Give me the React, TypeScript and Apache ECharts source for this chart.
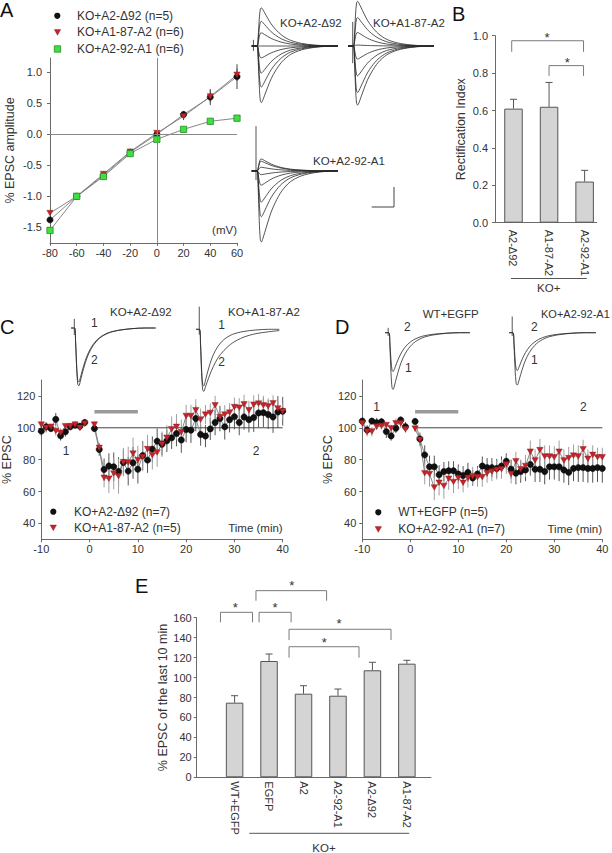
import React, { useEffect, useRef } from 'react';
import * as echarts from 'echarts';

// ---------------- Panel A: I-V relation ----------------
const IV_MV = [-80, -60, -40, -20, 0, 20, 40, 60];
const IV_D92 = [-1.38, -1.0, -0.66, -0.29, 0.0, 0.32, 0.6, 0.93];
const IV_D92_ERR = [0.03, 0.02, 0.04, 0.04, 0.04, 0.05, 0.13, 0.2];
const IV_A187 = [-1.27, -1.0, -0.64, -0.28, 0.02, 0.29, 0.61, 0.96];
const IV_A187_ERR = [0.03, 0.02, 0.03, 0.04, 0.03, 0.06, 0.1, 0.1];
const IV_A292 = [-1.55, -1.0, -0.68, -0.31, -0.08, 0.08, 0.21, 0.26];
const IV_A292_ERR = [0.03, 0.02, 0.05, 0.06, 0.03, 0.02, 0.04, 0.05];
const IV_NAMES = ['KO+A2-Δ92 (n=5)', 'KO+A1-87-A2 (n=6)', 'KO+A2-92-A1 (n=6)'];
const IV_TICKS = [-1.5, -1.0, -0.5, 0.0, 0.5, 1.0];

// ---------------- EPSC trace templates (normalised) ----------------
const TRACE_T = [0, 2.5, 3.0, 3.5, 4.0, 4.5, 5.2, 6.0, 7.5, 9, 11, 14, 18, 23, 29, 35, 40];
const TRACE_IV = [0, 0, 0.25, 0.7, 0.97, 1.0, 0.95, 0.87, 0.72, 0.58, 0.44, 0.28, 0.15, 0.07, 0.025, 0.005, 0];
const TRACE_FAST = [0, 0, 0.25, 0.7, 0.97, 1.0, 0.92, 0.8, 0.6, 0.45, 0.31, 0.18, 0.09, 0.04, 0.012, 0, 0];
const TRACE_SLOW = [0, 0, 0.25, 0.7, 0.97, 1.0, 0.94, 0.86, 0.72, 0.6, 0.47, 0.34, 0.22, 0.13, 0.07, 0.04, 0.02];
const C1_AMPS = [-1.0, -1.07];
const C2_AMPS = [-1.05, -1.15];
const D1_AMPS = [-1.05, -0.72];
const D2_AMPS = [-0.97, -0.7];
// stimulus artifacts: [t, low, high]
const ART_A = [[0.8, -0.12, 0.15], [2.2, -0.37, 0.52], [2.0, -0.2, 0.98]];
const ART_C = [[2.4, -0.13, 0.17], [2.4, -0.1, 0.42]];
const ART_D = [[2.2, -0.06, 0.09], [2.2, -0.06, 0.3]];

// ---------------- Panel B: rectification index ----------------
const RI_CATS = ['A2-Δ92', 'A1-87-A2', 'A2-92-A1'];
const RI_VALS = [0.61, 0.62, 0.22];
const RI_ERR = [0.05, 0.13, 0.06];
const RI_BRACKETS = [[-0.05, 1.97, 0.973, 0.914], [1.0, 1.97, 0.84, 0.785]];
const RI_STARS = [[0.94, 1.004], [1.51, 0.875]];
const RI_TICKS = [0, 0.2, 0.4, 0.6, 0.8, 1.0];

// ---------------- Panels C & D: time course ----------------
const T_PRE = [-10, -9, -8, -7, -6, -5, -4, -3, -2, -1];
const T_POST = [1, 2, 3, 4, 5, 6, 7, 8, 9, 10, 11, 12, 13, 14, 15, 16, 17, 18, 19, 20, 21, 22, 23, 24, 25, 26, 27, 28, 29, 30, 31, 32, 33, 34, 35, 36, 37, 38, 39, 40];

const C_BLACK_PRE = [97.9, 100.6, 99.5, 105.3, 95, 97.5, 100.6, 101.6, 101, 103.3];
const C_BLACK_POST = [99.5, 86.4, 73.8, 76, 75.5, 72.6, 78.2, 72.8, 78, 74, 82.6, 79.7, 86.6, 91.6, 89.7, 91.8, 93.7, 96.4, 92.3, 98.9, 98.5, 105.8, 95.8, 94.8, 99.3, 103.3, 105.8, 100.6, 105.1, 107, 103.3, 106.8, 105.1, 106.4, 109.3, 109.5, 108.3, 106.8, 109.9, 110.4];
const C_BLACK_PRE_ERR = [3, 3, 2, 4, 3, 3, 2, 2, 2, 2];
const C_BLACK_POST_ERR = [2, 4, 7, 8, 9, 9, 8, 9, 10, 9, 9, 8, 8, 8, 7, 7, 7, 8, 8, 8, 8, 8, 7, 7, 7, 8, 8, 8, 8, 8, 8, 8, 8, 9, 9, 9, 9, 10, 10, 9];
const C_RED_PRE = [102, 100, 100.6, 98, 96.8, 101, 101, 102, 100, 102.7];
const C_RED_POST = [102, 87.4, 68.6, 68, 71.3, 69.6, 78.4, 78.2, 83.8, 79.7, 81.7, 86.6, 82.8, 84.5, 89.7, 93.7, 99.1, 100.6, 97.2, 107.4, 107.4, 111, 105.1, 108.3, 109.3, 114.1, 106.8, 108.3, 109.5, 113, 112.6, 114.7, 111, 114.5, 115.2, 114.1, 113.5, 115.4, 112.1, 110.4];
const C_RED_PRE_ERR = [3, 3, 2, 3, 3, 2, 2, 2, 2, 2];
const C_RED_POST_ERR = [2, 3, 6, 9, 10, 11, 9, 10, 10, 9, 9, 9, 9, 9, 8, 8, 8, 8, 8, 7, 7, 7, 7, 6, 6, 6, 6, 6, 6, 6, 6, 6, 6, 6, 6, 6, 5, 5, 5, 5];
const C_NAMES = ['KO+A2-Δ92 (n=7)', 'KO+A1-87-A2 (n=5)'];

const D_BLACK_PRE = [104.2, 98.6, 104.2, 103.2, 103.8, 97.6, 94.9, 99.7, 104.9, 100.7];
const D_BLACK_POST = [104, 93, 83, 75.5, 75.5, 70.5, 72.5, 73, 73, 71, 70, 72, 68.5, 71, 76, 75, 75, 74.5, 76, 79, 74, 71.5, 72.5, 73.5, 77, 74, 74, 72.5, 75.5, 75.5, 75.5, 73.5, 72, 74.5, 75, 75, 74.5, 74.5, 75, 74.5];
const D_BLACK_PRE_ERR = [2, 3, 2, 3, 2, 4, 3, 3, 2, 3];
const D_BLACK_POST_ERR = [2, 4, 6, 7, 7, 6, 6, 6, 6, 6, 6, 6, 5, 5, 6, 6, 6, 6, 6, 5, 6, 7, 7, 7, 7, 8, 8, 8, 8, 8, 9, 8, 8, 8, 9, 9, 9, 9, 9, 9];
const D_RED_PRE = [102.8, 97.6, 97.6, 100.7, 101.1, 101.7, 99.7, 102.8, 102.8, 99];
const D_RED_POST = [99.5, 92.5, 71.5, 71, 62.5, 65.5, 63.5, 68, 66, 68.5, 65.5, 68.5, 69.5, 69, 69, 71.5, 72.5, 73.5, 74, 77, 71, 79, 74, 76, 85, 79.5, 86, 82, 82, 81.5, 85, 79.5, 81, 82.5, 82, 86.5, 80.5, 83, 81.5, 81.5];
const D_RED_PRE_ERR = [2, 3, 3, 2, 2, 2, 2, 3, 3, 2];
const D_RED_POST_ERR = [2, 4, 7, 8, 8, 8, 8, 7, 7, 7, 6, 6, 6, 6, 6, 6, 6, 6, 6, 6, 6, 6, 6, 7, 7, 7, 7, 7, 7, 7, 7, 7, 7, 7, 7, 6, 6, 6, 6, 6];
const D_NAMES = ['WT+EGFP (n=5)', 'KO+A2-92-A1 (n=7)'];

const TC_TICKS = [40, 60, 80, 100, 120];
const BASELINE = [[0.5, 100], [40, 100]];
const BASELINE_D = [[1, 100], [40, 100]];
const DRUG_BAR = [[1, 110], [10, 110]];

// ---------------- Panel E ----------------
const E_CATS = ['WT+EGFP', 'EGFP', 'A2', 'A2-92-A1', 'A2-Δ92', 'A1-87-A2'];
const E_VALS = [74.8, 116.6, 83.8, 81.8, 107.3, 113.9];
const E_ERR = [7, 7, 8, 6.7, 8, 3.4];
const E_BRACKETS = [
  [-0.41, 0.52, 165.4, 155.4],
  [0.71, 1.64, 165.4, 155.4],
  [0.62, 2.67, 187.1, 177.0],
  [1.58, 4.54, 148.4, 137.6],
  [1.58, 3.61, 130.9, 119.9],
];
const E_STARS = [[0.02, 173.4], [1.17, 173.4], [1.66, 195.1], [3.03, 156.7], [2.6, 138.3]];

// ---------------- styles ----------------
const FONT = '"Liberation Sans", Arial, Helvetica, sans-serif';
const AX = '#6a6a6a';
const TXT = '#333';
const RED = '#c4232b';
const GREEN = '#3fe03f';
const TRI = 'path://M0,0L10,0L5,9Z';

function valueAxis(gridIndex: number, o: any) {
  return {
    type: 'value',
    gridIndex,
    min: o.min,
    max: o.max,
    interval: o.interval,
    splitLine: { show: false },
    axisLine: { show: true, onZero: false, lineStyle: { color: AX, width: 1 } },
    axisTick: { show: o.tick !== false, length: 3, lineStyle: { color: AX }, customValues: o.customValues },
    axisLabel: {
      fontSize: 11,
      color: TXT,
      fontFamily: FONT,
      margin: o.margin ?? 5,
      formatter: o.formatter,
      customValues: o.customValues,
      rotate: o.rotate ?? 0,
    },
    name: o.name,
    nameLocation: 'middle',
    nameGap: o.nameGap,
    nameRotate: o.name ? 90 : undefined,
    nameTextStyle: { fontSize: o.nameSize ?? 12.5, color: TXT, fontFamily: FONT },
  };
}
function hiddenAxis(gridIndex: number, min: number, max: number) {
  return { type: 'value', gridIndex, min, max, show: false };
}

function errSeries(gi: number, data: number[][], color: string, cap: number) {
  return {
    type: 'custom',
    xAxisIndex: gi,
    yAxisIndex: gi,
    data,
    silent: true,
    z: 1,
    renderItem: (_p: any, api: any) => {
      const x = api.value(0);
      const a = api.coord([x, api.value(1)]);
      const b = api.coord([x, api.value(2)]);
      const ch: any[] = [
        { type: 'line', shape: { x1: a[0], y1: a[1], x2: b[0], y2: b[1] }, style: { stroke: color, lineWidth: 1 } },
      ];
      if (cap > 0) {
        ch.push({ type: 'line', shape: { x1: b[0] - cap, y1: b[1], x2: b[0] + cap, y2: b[1] }, style: { stroke: color, lineWidth: 1 } });
      }
      return { type: 'group', children: ch };
    },
  };
}
function bracketSeries(gi: number, data: number[][]) {
  return {
    type: 'custom',
    xAxisIndex: gi,
    yAxisIndex: gi,
    data,
    silent: true,
    renderItem: (_p: any, api: any) => {
      const x1 = api.value(0), x2 = api.value(1), top = api.value(2), drop = api.value(3);
      return {
        type: 'polyline',
        shape: { points: [api.coord([x1, drop]), api.coord([x1, top]), api.coord([x2, top]), api.coord([x2, drop])] },
        style: { stroke: '#7a7a7a', lineWidth: 1, fill: 'none' },
      };
    },
  };
}
function starSeries(gi: number, data: number[][]) {
  return {
    type: 'custom',
    xAxisIndex: gi,
    yAxisIndex: gi,
    data,
    silent: true,
    renderItem: (_p: any, api: any) => {
      const c = api.coord([api.value(0), api.value(1)]);
      return {
        type: 'text',
        x: c[0],
        y: c[1] + 3,
        style: { text: '*', font: `13px ${FONT}`, fill: TXT, align: 'center', verticalAlign: 'middle' },
      };
    },
  };
}
function traceLine(gi: number, amp: number, shape: number[]) {
  return {
    type: 'line',
    xAxisIndex: gi,
    yAxisIndex: gi,
    data: TRACE_T.map((t, i) => [t, amp * shape[i]]),
    showSymbol: false,
    silent: true,
    smooth: 0.3,
    lineStyle: { color: '#2a2a2a', width: 0.8 },
  };
}
function artifactLine(gi: number, a: number[]) {
  return {
    type: 'line',
    xAxisIndex: gi,
    yAxisIndex: gi,
    data: [[a[0], a[1]], [a[0], a[2]]],
    showSymbol: false,
    silent: true,
    lineStyle: { color: '#2a2a2a', width: 0.8 },
  };
}
function plainLine(gi: number, data: number[][], color: string, width: number) {
  return { type: 'line', xAxisIndex: gi, yAxisIndex: gi, data, showSymbol: false, silent: true, lineStyle: { color, width } };
}
function pointLine(gi: number, name: string, t: number[], v: number[], kind: string) {
  const sym = kind === 'black'
    ? { symbol: 'circle', symbolSize: 6.3, itemStyle: { color: '#111', borderColor: '#000', borderWidth: 0.5 } }
    : kind === 'red'
      ? { symbol: TRI, symbolSize: [6.4, 5.6], itemStyle: { color: RED, borderColor: '#8a1a1a', borderWidth: 0.4 } }
      : { symbol: 'rect', symbolSize: 6.3, itemStyle: { color: GREEN, borderColor: '#2a8a2a', borderWidth: 0.8 } };
  return {
    type: 'line',
    name,
    xAxisIndex: gi,
    yAxisIndex: gi,
    data: t.map((x, i) => [x, v[i]]),
    showSymbol: true,
    silent: true,
    lineStyle: { color: '#7a7a7a', width: 0.9 },
    ...sym,
  };
}
const errData = (t: number[], v: number[], e: number[]) => t.map((x, i) => [x, v[i] - e[i], v[i] + e[i]]);
const errUp = (v: number[], e: number[]) => v.map((y, i) => [i, y, y + e[i]]);

function txt(x: number, y: number, text: string, size = 11.5, align = 'left', fill = TXT) {
  return { type: 'text', x, y, silent: true, style: { text, font: `${size}px ${FONT}`, fill, align, verticalAlign: 'middle' } };
}
function legCircle(cx: number, cy: number) {
  return { type: 'circle', shape: { cx, cy, r: 3.1 }, style: { fill: '#111' }, silent: true };
}
function legTri(cx: number, cy: number) {
  return { type: 'polygon', shape: { points: [[cx - 3.2, cy - 2.7], [cx + 3.2, cy - 2.7], [cx, cy + 3]] }, style: { fill: RED, stroke: '#8a1a1a', lineWidth: 0.4 }, silent: true };
}
function legSquare(cx: number, cy: number) {
  return { type: 'rect', shape: { x: cx - 3.2, y: cy - 3.2, width: 6.4, height: 6.4 }, style: { fill: GREEN, stroke: '#2a8a2a', lineWidth: 0.8 }, silent: true };
}
function gline(x1: number, y1: number, x2: number, y2: number, color = '#555') {
  return { type: 'line', shape: { x1, y1, x2, y2 }, style: { stroke: color, lineWidth: 1 }, silent: true };
}

function buildOption() {
  const grids = [
    { left: 50, top: 58.04, width: 187, height: 184.8 }, // 0 A I-V
    { left: 251.7, top: 2.95, width: 86.3, height: 102.5 }, // 1 A trace 1
    { left: 348, top: 0, width: 86, height: 111.1 }, // 2 A trace 2
    { left: 251.7, top: 116, width: 86.3, height: 130.5 }, // 3 A trace 3
    { left: 495, top: 35.7, width: 101.7, height: 187 }, // 4 B
    { left: 71.7, top: 311.8, width: 84, height: 81 }, // 5 C trace 1
    { left: 196.7, top: 305, width: 82.6, height: 94.5 }, // 6 C trace 2
    { left: 41.3, top: 380, width: 241.4, height: 159.3 }, // 7 C
    { left: 386, top: 321.9, width: 84, height: 75.6 }, // 8 D trace 1
    { left: 510, top: 313.8, width: 86, height: 78.3 }, // 9 D trace 2
    { left: 362.3, top: 380, width: 240, height: 159.3 }, // 10 D
    { left: 196.7, top: 617.7, width: 234.3, height: 159.6 }, // 11 E
  ].map((g) => ({ ...g, outerBoundsMode: 'none', containLabel: false }));

  const xAxis = [
    valueAxis(0, { min: -80, max: 60, interval: 20, margin: 5 }),
    hiddenAxis(1, 0, 40),
    hiddenAxis(2, 0, 40),
    hiddenAxis(3, 0, 40),
    valueAxis(4, { min: -0.52, max: 2.34, customValues: [0, 1, 2], tick: false, rotate: -90, margin: 7, formatter: (v: number) => RI_CATS[Math.round(v)] ?? '' }),
    hiddenAxis(5, 1.2, 40),
    hiddenAxis(6, 1.2, 40),
    valueAxis(7, { min: -10, max: 40, interval: 10, margin: 4 }),
    hiddenAxis(8, 1.2, 40),
    hiddenAxis(9, 1.2, 40),
    valueAxis(10, { min: -10, max: 40, interval: 10, margin: 4 }),
    valueAxis(11, { min: -1.1, max: 5.7, customValues: [0, 1, 2, 3, 4, 5], tick: false, rotate: -90, margin: 4, formatter: (v: number) => E_CATS[Math.round(v)] ?? '' }),
  ];
  const yAxis = [
    valueAxis(0, { min: -1.75, max: 1.23, customValues: IV_TICKS, margin: 8, formatter: (v: number) => v.toFixed(1), name: '% EPSC amplitude', nameGap: 34, nameSize: 12.5 }),
    hiddenAxis(1, -1.45, 1.05),
    hiddenAxis(2, -1.4, 0.99),
    hiddenAxis(3, -1.65, 1.2),
    valueAxis(4, { min: 0, max: 1, customValues: RI_TICKS, margin: 7, formatter: (v: number) => v.toFixed(1), name: 'Rectification Index', nameGap: 28 }),
    hiddenAxis(5, -1.2, 0.3),
    hiddenAxis(6, -1.3, 0.45),
    valueAxis(7, { min: 30, max: 130, customValues: TC_TICKS, margin: 6, name: '% EPSC', nameGap: 26 }),
    hiddenAxis(8, -1.2, 0.2),
    hiddenAxis(9, -1.1, 0.35),
    valueAxis(10, { min: 30, max: 130, customValues: TC_TICKS, margin: 6, name: '% EPSC', nameGap: 25 }),
    valueAxis(11, { min: 0, max: 160, interval: 20, margin: 5, name: '% EPSC of the last 10 min', nameGap: 27 }),
  ];

  const series: any[] = [];

  // ---- A: I-V ----
  series.push(errSeries(0, errData(IV_MV, IV_D92, IV_D92_ERR), '#444', 0));
  series.push(errSeries(0, errData(IV_MV, IV_A187, IV_A187_ERR), '#555', 0));
  series.push(errSeries(0, errData(IV_MV, IV_A292, IV_A292_ERR), '#555', 0));
  const ivBlack: any = pointLine(0, IV_NAMES[0], IV_MV, IV_D92, 'black');
  ivBlack.markLine = {
    silent: true,
    symbol: ['none', 'none'],
    label: { show: false },
    lineStyle: { color: '#888', width: 1, type: 'solid' },
    data: [{ xAxis: 0 }, { yAxis: 0 }],
  };
  series.push(ivBlack);
  series.push(pointLine(0, IV_NAMES[1], IV_MV, IV_A187, 'red'));
  series.push(pointLine(0, IV_NAMES[2], IV_MV, IV_A292, 'green'));

  // ---- A: traces (one sweep per holding potential, amplitude from the I-V values) ----
  [IV_D92, IV_A187, IV_A292].forEach((amps, k) => {
    const gi = k + 1;
    amps.forEach((a) => series.push(traceLine(gi, a, TRACE_IV)));
    series.push(artifactLine(gi, ART_A[k]));
  });

  // ---- B ----
  series.push({
    type: 'bar',
    xAxisIndex: 4,
    yAxisIndex: 4,
    barWidth: 18.5,
    silent: true,
    data: RI_VALS.map((v, i) => [i, v]),
    itemStyle: { color: '#d4d4d4', borderColor: '#555', borderWidth: 1 },
  });
  series.push(errSeries(4, errUp(RI_VALS, RI_ERR), '#555', 3.5));
  series.push(bracketSeries(4, RI_BRACKETS));
  series.push(starSeries(4, RI_STARS));

  // ---- C ----
  series.push(traceLine(5, C1_AMPS[0], TRACE_FAST), traceLine(5, C1_AMPS[1], TRACE_FAST), artifactLine(5, ART_C[0]));
  series.push(traceLine(6, C2_AMPS[0], TRACE_FAST), traceLine(6, C2_AMPS[1], TRACE_SLOW), artifactLine(6, ART_C[1]));
  series.push(plainLine(7, BASELINE, '#444', 1));
  series.push(plainLine(7, DRUG_BAR, '#9a9a9a', 3.5));
  series.push(errSeries(7, errData(T_PRE, C_BLACK_PRE, C_BLACK_PRE_ERR), '#555', 0));
  series.push(errSeries(7, errData(T_POST, C_BLACK_POST, C_BLACK_POST_ERR), '#555', 0));
  series.push(errSeries(7, errData(T_PRE, C_RED_PRE, C_RED_PRE_ERR), '#a0a0a0', 0));
  series.push(errSeries(7, errData(T_POST, C_RED_POST, C_RED_POST_ERR), '#a0a0a0', 0));
  series.push(pointLine(7, C_NAMES[0], T_PRE, C_BLACK_PRE, 'black'));
  series.push(pointLine(7, C_NAMES[0], T_POST, C_BLACK_POST, 'black'));
  series.push(pointLine(7, C_NAMES[1], T_PRE, C_RED_PRE, 'red'));
  series.push(pointLine(7, C_NAMES[1], T_POST, C_RED_POST, 'red'));

  // ---- D ----
  series.push(traceLine(8, D1_AMPS[0], TRACE_FAST), traceLine(8, D1_AMPS[1], TRACE_FAST), artifactLine(8, ART_D[0]));
  series.push(traceLine(9, D2_AMPS[0], TRACE_FAST), traceLine(9, D2_AMPS[1], TRACE_FAST), artifactLine(9, ART_D[1]));
  series.push(plainLine(10, BASELINE_D, '#444', 1));
  series.push(plainLine(10, DRUG_BAR, '#9a9a9a', 3.5));
  series.push(errSeries(10, errData(T_PRE, D_BLACK_PRE, D_BLACK_PRE_ERR), '#555', 0));
  series.push(errSeries(10, errData(T_POST, D_BLACK_POST, D_BLACK_POST_ERR), '#555', 0));
  series.push(errSeries(10, errData(T_PRE, D_RED_PRE, D_RED_PRE_ERR), '#a0a0a0', 0));
  series.push(errSeries(10, errData(T_POST, D_RED_POST, D_RED_POST_ERR), '#a0a0a0', 0));
  series.push(pointLine(10, D_NAMES[0], T_PRE, D_BLACK_PRE, 'black'));
  series.push(pointLine(10, D_NAMES[0], T_POST, D_BLACK_POST, 'black'));
  series.push(pointLine(10, D_NAMES[1], T_PRE, D_RED_PRE, 'red'));
  series.push(pointLine(10, D_NAMES[1], T_POST, D_RED_POST, 'red'));

  // ---- E ----
  series.push({
    type: 'bar',
    xAxisIndex: 11,
    yAxisIndex: 11,
    barWidth: 17.5,
    silent: true,
    data: E_VALS.map((v, i) => [i, v]),
    itemStyle: { color: '#d4d4d4', borderColor: '#555', borderWidth: 1 },
  });
  series.push(errSeries(11, errUp(E_VALS, E_ERR), '#555', 3.5));
  series.push(bracketSeries(11, E_BRACKETS));
  series.push(starSeries(11, E_STARS));

  const graphic: any[] = [
    // panel letters
    txt(0, 9.5, 'A', 20, 'left', '#111'),
    txt(452, 13.5, 'B', 20, 'left', '#111'),
    txt(0, 326.5, 'C', 20, 'left', '#111'),
    txt(335, 327, 'D', 20, 'left', '#111'),
    txt(135, 586, 'E', 20, 'left', '#111'),
    // A legend
    legCircle(57.3, 15.8), txt(77, 15.8, IV_NAMES[0], 12),
    legTri(57.5, 32.3), txt(77, 32.3, IV_NAMES[1], 12),
    legSquare(57.5, 49), txt(77, 49, IV_NAMES[2], 12),
    txt(237, 230, '(mV)', 11.5, 'right'),
    // A trace labels
    txt(280, 23, 'KO+A2-Δ92', 11.5),
    txt(373, 23, 'KO+A1-87-A2', 11.5),
    txt(313, 161, 'KO+A2-92-A1', 11.5),
    { type: 'polyline', shape: { points: [[371.7, 207], [394, 207], [394, 187]] }, style: { stroke: '#444', lineWidth: 1, fill: 'none' }, silent: true },
    // B group label
    gline(511, 278.5, 586.7, 278.5),
    txt(548.7, 288, 'KO+', 11.5, 'center'),
    // C
    txt(110, 312, 'KO+A2-Δ92', 11.5),
    txt(228, 312, 'KO+A1-87-A2', 11.5),
    txt(94.3, 323, '1', 12, 'center'), txt(94.3, 360, '2', 12, 'center'),
    txt(221.7, 325, '1', 12, 'center'), txt(221.7, 361.7, '2', 12, 'center'),
    txt(66, 450.7, '1', 12, 'center'), txt(256, 451, '2', 12, 'center'),
    legCircle(53.3, 511.7), txt(74, 511.7, C_NAMES[0], 12),
    legTri(53.3, 527.7), txt(74, 527.7, C_NAMES[1], 12),
    txt(282.7, 527.7, 'Time (min)', 11.5, 'right'),
    // D
    txt(422.7, 314, 'WT+EGFP', 11.5),
    txt(541, 314, 'KO+A2-92-A1', 11),
    txt(407.3, 326.7, '2', 12, 'center'), txt(408.3, 367.7, '1', 12, 'center'),
    txt(534.3, 326.7, '2', 12, 'center'), txt(534.3, 360, '1', 12, 'center'),
    txt(376.7, 407.3, '1', 12, 'center'), txt(583.3, 407.3, '2', 12, 'center'),
    legCircle(378.3, 512.3), txt(398.3, 512.3, D_NAMES[0], 12),
    legTri(378.3, 529.3), txt(398.3, 529.3, D_NAMES[1], 12),
    txt(602, 529.3, 'Time (min)', 11.5, 'right'),
    // E group label
    gline(249.3, 833.3, 409.3, 833.3),
    txt(324, 848, 'KO+', 11.5, 'center'),
  ];

  return {
    animation: false,
    backgroundColor: '#ffffff',
    textStyle: { fontFamily: FONT },
    grid: grids,
    xAxis,
    yAxis,
    series,
    graphic,
  };
}

export default function App() {
  const ref = useRef<HTMLDivElement>(null);
  useEffect(() => {
    if (!ref.current) return;
    const chart = echarts.init(ref.current, undefined, { renderer: 'svg' });
    chart.setOption(buildOption() as any);
    return () => chart.dispose();
  }, []);
  return (
    <div
      ref={ref}
      style={{ position: 'absolute', left: 0, top: 0, width: 612, height: 853, background: '#fff' }}
    />
  );
}
